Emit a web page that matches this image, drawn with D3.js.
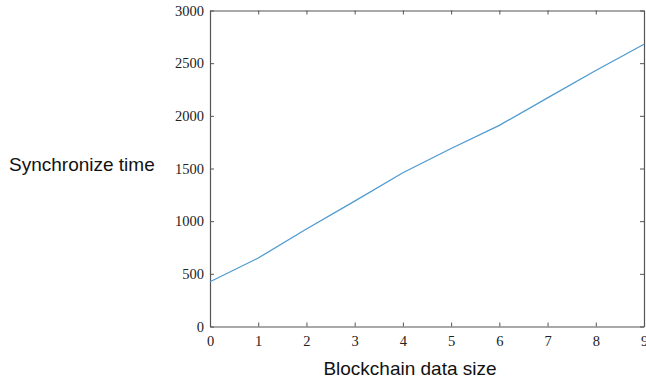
<!DOCTYPE html>
<html>
<head>
<meta charset="utf-8">
<script src="https://cdn.jsdelivr.net/npm/d3@7"></script>
<style>
  html, body { margin: 0; padding: 0; background: #fff; }
  svg { display: block; }
</style>
</head>
<body>
<svg id="chart" width="646" height="381"></svg>
<script>
// Synchronisation time against blockchain data size
const sizes = [0, 1, 2, 3, 4, 5, 6, 7, 8, 9];
const syncTimes = [425, 650, 925, 1190, 1460, 1690, 1910, 2170, 2430, 2680];
const xTicks = [0, 1, 2, 3, 4, 5, 6, 7, 8, 9];
const yTicks = [0, 500, 1000, 1500, 2000, 2500, 3000];

const svg = d3.select("#chart");
const margin = { left: 210, right: 2, top: 10.5, bottom: 54.5 };
const W = 646, H = 381;
const x = d3.scaleLinear().domain([0, 9]).range([margin.left, W - margin.right]);
const y = d3.scaleLinear().domain([0, 3000]).range([H - margin.bottom, margin.top]);

const axisColor = "#555";
const tickFont = "'Liberation Serif', 'Times New Roman', serif";

function styleAxis(g, showLabels) {
  g.select(".domain").attr("stroke", axisColor).attr("stroke-width", 1.2);
  g.selectAll(".tick line").attr("stroke", axisColor).attr("stroke-width", 1);
  g.selectAll(".tick text")
    .attr("fill", "#222")
    .style("font-family", tickFont)
    .style("font-size", "14.5px")
    .style("display", showLabels ? null : "none");
}

// Bottom axis with labels, ticks pointing inward
svg.append("g")
  .attr("transform", `translate(0,${y(0)})`)
  .call(d3.axisBottom(x).tickValues(xTicks).tickFormat(d3.format("d")).tickSizeInner(-4).tickSizeOuter(0).tickPadding(9))
  .call(g => styleAxis(g, true));

// Top axis, ticks only
svg.append("g")
  .attr("transform", `translate(0,${y(3000)})`)
  .call(d3.axisTop(x).tickValues(xTicks).tickSizeInner(-4).tickSizeOuter(0))
  .call(g => styleAxis(g, false));

// Left axis with labels
svg.append("g")
  .attr("transform", `translate(${x(0)},0)`)
  .call(d3.axisLeft(y).tickValues(yTicks).tickFormat(d3.format("d")).tickSizeInner(-4).tickSizeOuter(0).tickPadding(6))
  .call(g => styleAxis(g, true));

// Right axis, ticks only
svg.append("g")
  .attr("transform", `translate(${x(9)},0)`)
  .call(d3.axisRight(y).tickValues(yTicks).tickSizeInner(-4).tickSizeOuter(0))
  .call(g => styleAxis(g, false));

// Data line
const line = d3.line().x((d, i) => x(sizes[i])).y(d => y(d));
svg.append("path")
  .datum(syncTimes)
  .attr("fill", "none")
  .attr("stroke", "#4f9bd0")
  .attr("stroke-width", 1.3)
  .attr("d", line);

// Axis titles
svg.append("text")
  .attr("x", 410).attr("y", 375)
  .attr("text-anchor", "middle")
  .style("font-family", "'Liberation Sans', Arial, sans-serif")
  .style("font-size", "19px")
  .attr("fill", "#111")
  .text("Blockchain data size");

svg.append("text")
  .attr("x", 9).attr("y", 171)
  .attr("text-anchor", "start")
  .style("font-family", "'Liberation Sans', Arial, sans-serif")
  .style("font-size", "19px")
  .attr("fill", "#111")
  .text("Synchronize time");
</script>
</body>
</html>
